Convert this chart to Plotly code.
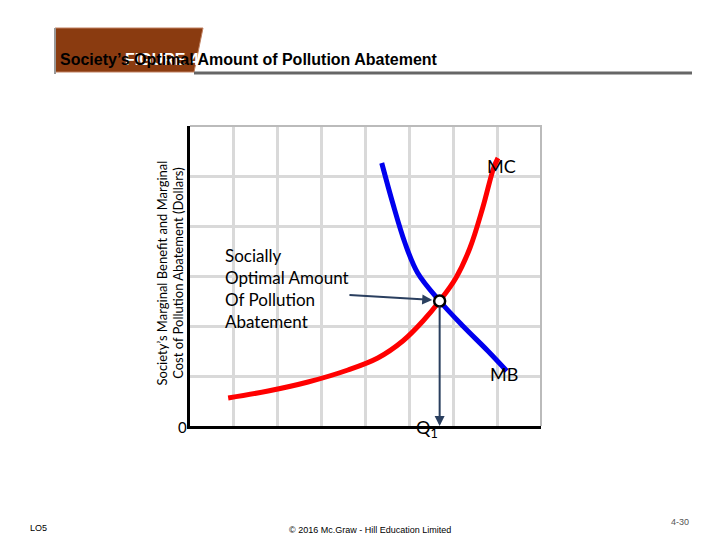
import plotly.graph_objects as go

mc_x = [0.87, 1.78, 2.69, 3.6, 4.28, 4.85, 5.31, 5.69, 6.06, 6.38, 6.67, 6.92, 7.02]
mc_y = [0.56, 0.70, 0.88, 1.12, 1.36, 1.70, 2.10, 2.50, 2.96, 3.56, 4.36, 5.16, 5.36]
mb_x = [4.37, 4.62, 4.90, 5.19, 5.69, 6.22, 6.79, 7.22]
mb_y = [5.26, 4.46, 3.66, 3.06, 2.50, 2.00, 1.50, 1.10]
eq_x, eq_y = 5.69, 2.5
label_x, label_y = 3.6, 2.62

L, R, T, B = 182, 533, 118, 418
def px(x): return (x - L) / (R - L)
def py(y): return (B - y) / (B - T)

fig = go.Figure()
fig.add_trace(go.Scatter(x=mc_x, y=mc_y, mode="lines", line=dict(color="#ff0000", width=5, shape="spline"), hoverinfo="skip"))
fig.add_trace(go.Scatter(x=mb_x, y=mb_y, mode="lines", line=dict(color="#0000ee", width=5, shape="spline"), hoverinfo="skip"))
fig.add_trace(go.Scatter(x=[eq_x], y=[eq_y], mode="markers", marker=dict(size=11, color="white", line=dict(color="black", width=2.5)), hoverinfo="skip"))

fig.update_layout(
    width=720, height=540, showlegend=False, plot_bgcolor="white", paper_bgcolor="white",
    margin=dict(l=L, r=720 - R, t=T, b=540 - B),
    xaxis=dict(range=[0, 8], tickvals=[1, 2, 3, 4, 5, 6, 7], showticklabels=False, showgrid=True,
               gridcolor="#d9d9d9", gridwidth=3, zeroline=False, showline=True, linecolor="black",
               linewidth=3, mirror=False, fixedrange=True),
    yaxis=dict(range=[0, 6], tickvals=[1, 2, 3, 4, 5], showticklabels=False, showgrid=True,
               gridcolor="#d9d9d9", gridwidth=3, zeroline=False, showline=True, linecolor="black",
               linewidth=3, mirror=False, fixedrange=True),
)
fig.add_shape(type="path", xref="paper", yref="paper", path="M 0 1 L 1 1 L 1 0", line=dict(color="#bbbbbb", width=2))

fig.add_shape(type="path", xref="paper", yref="paper",
              path=f"M {px(47)} {py(20)} L {px(195)} {py(20)} L {px(186)} {py(64)} L {px(47)} {py(64)} Z",
              fillcolor="#8a3b10", line=dict(color="#c08060", width=1), layer="above")
fig.add_shape(type="line", xref="paper", yref="paper", x0=px(186), x1=px(684), y0=py(65), y1=py(65),
              line=dict(color="#666666", width=3))
fig.add_shape(type="line", xref="paper", yref="paper", x0=px(47), x1=px(47), y0=py(20), y1=py(66),
              line=dict(color="#999999", width=2))

def ann(x, y, text, size, **kw):
    d = dict(x=px(x), y=py(y), xref="paper", yref="paper", text=text, showarrow=False,
             font=dict(size=size, color=kw.pop("color", "black"), family=kw.pop("family", "Liberation Sans")))
    d.update(kw)
    fig.add_annotation(**d)

ann(115, 41, "<b>FIGURE 4-9</b>", 16, color="white")
ann(432, 41, "<b>Society’s Optimal Amount of Pollution Abatement</b>", 16)
ann(143, 265, "Society’s Marginal Benefit and Marginal<br>Cost of Pollution Abatement (Dollars)", 13,
    textangle=-90, family="Lato")
ann(510, 145, "MC", 18, family="Lato")
ann(512, 379, "MB", 18, family="Lato")
ann(168, 430, "0", 15, family="Lato")
ann(432, 435, "Q<sub>1</sub>", 18, family="Lato")
ann(215, 280, "Socially<br>Optimal Amount<br>Of Pollution<br>Abatement", 17, family="Lato",
    xanchor="left", align="left")
ann(20, 527, "LO5", 9)
ann(362, 529, "© 2016 Mc.Graw - Hill Education Limited", 9)
ann(683, 521, "4-30", 9, color="#555555")

fig.add_annotation(x=5.52, y=2.52, ax=label_x, ay=label_y, axref="x", ayref="y",
                   xref="x", yref="y", showarrow=True, arrowhead=2, arrowsize=1, arrowwidth=2, text="")
fig.add_annotation(x=eq_x, y=0.0, ax=eq_x, ay=2.42, axref="x", ayref="y",
                   xref="x", yref="y", showarrow=True, arrowhead=2, arrowsize=1, arrowwidth=2, text="")

fig.write_html("out.html")
